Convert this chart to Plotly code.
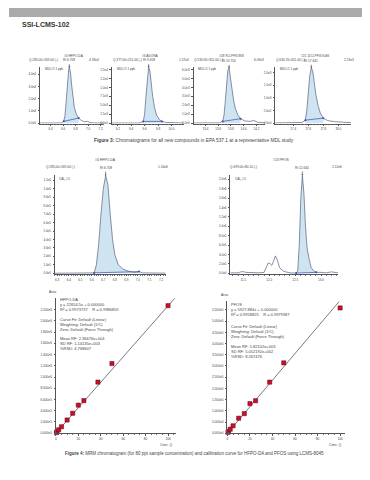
import plotly.graph_objects as go

W, H = 370, 480

# ---------------- Figure 3: MDL chromatograms ----------------
hfpo_s_t = [6.23, 6.45, 6.58, 6.61, 6.63, 6.65, 6.67, 6.69, 6.70, 6.72, 6.74, 6.76, 6.78, 6.81, 6.85, 6.89, 6.94, 6.99, 7.03, 7.10, 7.25]
hfpo_s_i = [100, 100, 200, 1500, 6000, 18000, 34000, 44000, 46000, 41000, 30000, 20000, 13000, 7500, 4200, 2200, 1200, 1500, 600, 200, 100]
adona_t = [9.11, 9.35, 9.52, 9.58, 9.60, 9.62, 9.64, 9.66, 9.68, 9.70, 9.72, 9.75, 9.78, 9.82, 9.86, 9.92, 10.00, 10.18]
adona_i = [30, 30, 50, 500, 2500, 7500, 12500, 15700, 14500, 11000, 7500, 4200, 2200, 1000, 500, 200, 100, 50]
cl9_t = [13.21, 13.45, 13.62, 13.67, 13.69, 13.71, 13.73, 13.75, 13.77, 13.79, 13.81, 13.84, 13.87, 13.91, 13.95, 14.02, 14.10, 14.16, 14.22, 14.34]
cl9_i = [20, 20, 40, 200, 900, 2400, 4300, 5900, 6200, 5200, 3900, 2600, 1600, 900, 500, 250, 200, 300, 100, 30]
cl11_t = [17.16, 17.40, 17.52, 17.56, 17.58, 17.60, 17.62, 17.64, 17.66, 17.68, 17.70, 17.73, 17.76, 17.80, 17.86, 17.95, 18.05, 18.17]
cl11_i = [10, 10, 30, 120, 500, 1200, 1900, 2200, 2050, 1600, 1150, 700, 400, 200, 100, 60, 40, 20]
small_win = [[6.61, 6.85], [9.58, 9.86], [13.67, 13.95], [17.56, 17.80]]
small_names = ["#4 HFPO-DA", "#6 ADONA", "#18 9Cl-PF3ONS", "#21 11Cl-PF3OUdS"]
small_q = ["Q 285.00>169.00 (-)", "Q 377.00>251.00 (-)", "Q 530.90>351.00 (-)", "Q 630.70>451.00 (-)"]
small_max = ["4.33e4", "1.57e4", "6.09e3", "2.13e3"]
small_rt = ["Rt 6.708", "Rt 9.658", "Rt 13.750", "Rt 17.641"]
small_xticks = [[6.4, 6.6, 6.8, 7.0, 7.2], [9.2, 9.4, 9.6, 9.8, 10.0],
                [13.4, 13.6, 13.8, 14.0, 14.2], [17.4, 17.6, 17.8, 18.0]]
small_yticks = [[0, 10000, 20000, 30000, 40000],
                [0, 2500, 5000, 7500, 10000, 12500, 15000],
                [0, 1000, 2000, 3000, 4000, 5000, 6000],
                [0, 500, 1000, 1500, 2000]]
small_xrange = [[6.23, 7.25], [9.11, 10.18], [13.21, 14.34], [17.16, 18.17]]
small_ytop = [46300, 15800, 6330, 2240]

# ---------------- Figure 4: MRM chromatograms (80 ppt) ----------------
hfpo_b_t = [6.28, 6.45, 6.55, 6.62, 6.64, 6.66, 6.68, 6.70, 6.72, 6.74, 6.76, 6.78, 6.80, 6.83, 6.87, 6.92, 6.97, 7.01, 7.04, 7.24]
hfpo_b_i = [1000, 1000, 2000, 5000, 100000, 350000, 700000, 1000000, 1155000, 1050000, 700000, 400000, 220000, 100000, 50000, 25000, 10000, 20000, 5000, 2000]
pfos_b_t = [11.25, 11.40, 11.45, 11.50, 11.55, 11.65, 11.80, 11.90, 11.95, 11.98, 12.02, 12.05, 12.08, 12.12, 12.15, 12.20, 12.28, 12.40, 12.52, 12.55, 12.58, 12.61, 12.64, 12.67, 12.70, 12.73, 12.77, 12.81, 12.86, 12.91, 13.00, 13.10, 13.20, 13.33]
pfos_b_i = [10000, 10000, 30000, 35000, 20000, 10000, 10000, 20000, 150000, 220000, 200000, 170000, 250000, 370000, 300000, 120000, 40000, 10000, 5000, 50000, 600000, 1600000, 2080000, 1700000, 1000000, 550000, 300000, 120000, 50000, 20000, 20000, 10000, 30000, 10000]
big_win = [[6.62, 7.01], [12.52, 12.91]]
big_names = ["#4 HFPO-DA", "#13 PFOS"]
big_q = ["Q 285.00>169.00 (-)", "Q 499.00>80.10 (-)"]
big_max = ["1.16e6", "2.12e6"]
big_rt = ["Rt 6.708", "Rt 12.640"]
big_xticks = [[6.3, 6.4, 6.5, 6.6, 6.7, 6.8, 6.9, 7.0, 7.1, 7.2], [11.5, 12.0, 12.5, 13.0]]
big_yticks = [[i * 100000 for i in range(12)], [i * 200000 for i in range(11)]]
big_xrange = [[6.28, 7.24], [11.25, 13.33]]
big_ytop = [1160000, 2085000]

# ---------------- Calibration curves ----------------
cal_conc = [0.5, 1, 2.5, 5, 10, 15, 20, 25, 37.5, 50, 100]
hfpo_area = [12000, 25000, 60000, 115000, 235000, 355000, 500000, 580000, 910000, 1240000, 2270000]
pfos_area = [4000, 8000, 18000, 33000, 67000, 87500, 132000, 145000, 228000, 314000, 559000]
cal_slope = [22654.5, 5927.884]
cal_fit_end = [106, 99]
cal_xticks = [0, 20, 40, 60, 80, 100]
cal_yticks = [[i * 200000 for i in range(12)], [i * 50000 for i in range(12)]]
cal_ytop = [2410000, 591000]
cal_xmax = [106.7, 104.4]
cal_text = [
    ["HFPO-DA<br>y = 22654.5x + 0.000000<br>R² = 0.9973737    R = 0.9986859",
     "Curve Fit: Default (Linear)<br>Weighting: Default (1/C)<br>Zero: Default (Force Through)",
     "Mean RF: 2.36676e+004<br>SD RF: 1.14135e+003<br>%RSD: 4.768607"],
    ["PFOS<br>y = 5927.884x + 0.000000<br>R² = 0.9958825    R = 0.9979387",
     "Curve Fit: Default (Linear)<br>Weighting: Default (1/C)<br>Zero: Default (Force Through)",
     "Mean RF: 5.82102e+003<br>SD RF: 5.052192e+002<br>%RSD: 8.267476"],
]

FONT = "Liberation Sans, Arial, sans-serif"
TXT = "#444444"
LINE_C = "#56627e"
FILL_C = "#cfe4f1"
BASE_C = "#3a4ea6"

fig = go.Figure()
annotations = []


def pdom(x0, x1, y0, y1):
    return [x0 / W, x1 / W], [1 - y1 / H, 1 - y0 / H]


def ann(text, x, y, size, xa="left", ya="middle", color=TXT, **kw):
    annotations.append(dict(text=text, x=x / W, y=1 - y / H, xref="paper", yref="paper",
                            xanchor=xa, yanchor=ya, showarrow=False,
                            font=dict(size=size, color=color, family=FONT), **kw))


def fmt1(v):
    if v == 0:
        return "0.0e0"
    m, e = f"{v:.1e}".split("e")
    return f"{m}e{int(e)}"


def fmt3(v):
    if v == 0:
        return "0.000e0"
    m, e = f"{v:.3e}".split("e")
    return f"{m}e{int(e)}"


def set_axes(i, box, xr, yr, xt, yt, ytt, xminor, tfs=3.0):
    xd, yd = pdom(*box)
    xn = "xaxis" if i == 1 else f"xaxis{i}"
    yn = "yaxis" if i == 1 else f"yaxis{i}"
    common = dict(showline=True, linecolor="#555555", linewidth=0.6, ticks="outside",
                  ticklen=1.5, tickwidth=0.5, tickcolor="#555555", showgrid=False,
                  zeroline=False, tickfont=dict(size=tfs, color=TXT, family=FONT),
                  fixedrange=True)
    fig.layout[xn] = dict(domain=xd, range=xr, anchor="y" if i == 1 else f"y{i}",
                          tickvals=xt, ticktext=[str(v) for v in xt], ticklabelstandoff=1,
                          minor=dict(ticks="outside", ticklen=1, tickwidth=0.4,
                                     tickcolor="#777777", dtick=xminor, tick0=0),
                          **common)
    fig.layout[yn] = dict(domain=yd, range=yr, anchor="x" if i == 1 else f"x{i}",
                          tickvals=yt, ticktext=ytt, ticklabelstandoff=1, **common)


def chrom(i, T, I, win, rt, ay):
    xa = "x" if i == 1 else f"x{i}"
    ya = "y" if i == 1 else f"y{i}"
    ft = [t for t in T if win[0] <= t <= win[1]]
    fi = [v for t, v in zip(T, I) if win[0] <= t <= win[1]]
    fig.add_trace(go.Scatter(x=ft, y=fi, xaxis=xa, yaxis=ya, mode="lines", fill="tozeroy",
                             fillcolor=FILL_C, line=dict(width=0), hoverinfo="skip"))
    fig.add_trace(go.Scatter(x=T, y=I, xaxis=xa, yaxis=ya, mode="lines",
                             line=dict(color=LINE_C, width=0.7), hoverinfo="skip"))
    fig.add_trace(go.Scatter(x=[ft[0], ft[-1]], y=[fi[0], fi[-1]], xaxis=xa, yaxis=ya,
                             mode="lines+markers", line=dict(color=BASE_C, width=0.7),
                             marker=dict(size=2, color=BASE_C), hoverinfo="skip"))
    k = max(range(len(I)), key=lambda j: I[j])
    annotations.append(dict(text=rt, x=T[k], y=I[k], xref=xa, yref=ya, showarrow=True,
                            arrowhead=1, arrowsize=0.6, arrowwidth=0.6, arrowcolor="#333333",
                            ax=0, ay=ay, yanchor="bottom",
                            font=dict(size=3.2, color=TXT, family=FONT)))


# ---- small panels ----
small_boxes = [(31, 95, 59, 116), (103, 175, 59, 116), (185, 257, 59, 116), (267, 343, 59, 116)]
small_q_x = [18, 102, 183, 266]
small_max_x = [92, 182, 258, 348]
small_data = [(hfpo_s_t, hfpo_s_i), (adona_t, adona_i), (cl9_t, cl9_i), (cl11_t, cl11_i)]
for n in range(4):
    i = n + 1
    T, I = small_data[n]
    ytop = small_ytop[n]
    set_axes(i, small_boxes[n], small_xrange[n], [-0.006 * ytop, ytop],
             small_xticks[n], small_yticks[n], [fmt1(v) for v in small_yticks[n]], 0.05)
    chrom(i, T, I, small_win[n], small_rt[n], -3)
    x0, x1, y0, y1 = small_boxes[n]
    ann(small_names[n], (x0 + x1) / 2 + 2, 48, 3.2, xa="center")
    ann(small_q[n], small_q_x[n], 52.5, 3.2)
    ann(small_max[n], small_max_x[n], 52.5, 3.2, xa="right")
    ann("MDL#1 1 ppb", x0 + 3, 61.5, 3.0)

ann("<b>Figure 3:</b> Chromatograms for all new compounds in EPA 537.1 at a representative MDL study",
    185, 133.5, 4.8, xa="center")

# ---- big chromatograms ----
big_boxes = [(46, 157, 168, 267), (222, 330, 168, 267)]
big_data = [(hfpo_b_t, hfpo_b_i), (pfos_b_t, pfos_b_i)]
big_minor = [0.02, 0.1]
for n in range(2):
    i = 5 + n
    T, I = big_data[n]
    ytop = big_ytop[n]
    set_axes(i, big_boxes[n], big_xrange[n], [-0.006 * ytop, ytop],
             big_xticks[n], big_yticks[n], [fmt1(v) for v in big_yticks[n]], big_minor[n])
    chrom(i, T, I, big_win[n], big_rt[n], -4)
    x0, x1, y0, y1 = big_boxes[n]
    ann("CAL_L5", x0 + 2.5, 171.5, 3.0)
ann(big_names[0], 97, 153, 3.4, xa="center")
ann(big_q[0], 35, 159.5, 3.2)
ann(big_max[0], 147, 159.5, 3.2)
ann(big_names[1], 273, 153, 3.4, xa="center")
ann(big_q[1], 220, 159.5, 3.2)
ann(big_max[1], 322, 159.5, 3.2)

# ---- calibration curves ----
cal_boxes = [(47, 167, 291, 427), (219, 337, 294, 427)]
cal_areas = [hfpo_area, pfos_area]
for n in range(2):
    i = 7 + n
    xa, ya = f"x{i}", f"y{i}"
    set_axes(i, cal_boxes[n], [0, cal_xmax[n]], [0, cal_ytop[n]], cal_xticks,
             cal_yticks[n], [fmt3(v) for v in cal_yticks[n]], 5, tfs=3.2)
    fig.add_trace(go.Scatter(x=[0, cal_fit_end[n]], y=[0, cal_slope[n] * cal_fit_end[n]],
                             xaxis=xa, yaxis=ya, mode="lines",
                             line=dict(color="#222222", width=0.6), hoverinfo="skip"))
    fig.add_trace(go.Scatter(x=cal_conc, y=cal_areas[n], xaxis=xa, yaxis=ya, mode="markers",
                             marker=dict(symbol="square", size=4.2, color="#c8102e",
                                         line=dict(color="#6b0012", width=0.5)),
                             cliponaxis=False, hoverinfo="skip"))
    x0, x1, y0, y1 = cal_boxes[n]
    ann("Area", x0 - 3, y0 - 6, 3.4, xa="center")
    ann("Conc. ()", x1 - 2, 439, 3.4, xa="right")

# HFPO-DA legend blocks
ann(cal_text[0][0], 49, 298, 4.0, ya="middle", align="left")
ann(cal_text[0][1], 49, 318, 4.0, ya="middle", align="left")
ann(cal_text[0][2], 49, 337, 4.0, ya="middle", align="left")
# PFOS legend blocks
ann(cal_text[1][0], 221, 303, 4.0, ya="middle", align="left")
ann(cal_text[1][1], 221, 324.5, 4.0, ya="middle", align="left")
ann(cal_text[1][2], 221, 344.5, 4.0, ya="middle", align="left")

ann("<b>Figure 4:</b> MRM chromatogram (for 80 ppt sample concentration) and calibration curve for HFPO-DA and PFOS using LCMS-8045",
    186, 447, 4.5, xa="center")

# ---- page header ----
ann("<b>SSI-LCMS-102</b>", 11, 17, 7, color="#333333")

fig.update_layout(
    width=W, height=H, autosize=False,
    margin=dict(l=0, r=0, t=0, b=0),
    paper_bgcolor="white", plot_bgcolor="white",
    showlegend=False,
    font=dict(family=FONT, color=TXT),
    annotations=annotations,
    shapes=[dict(type="rect", xref="paper", yref="paper", x0=0, x1=1, y0=1 - 9 / H, y1=1,
                 fillcolor="#a9aaac", line=dict(width=0), layer="above")],
)

fig.write_html("out.html")
